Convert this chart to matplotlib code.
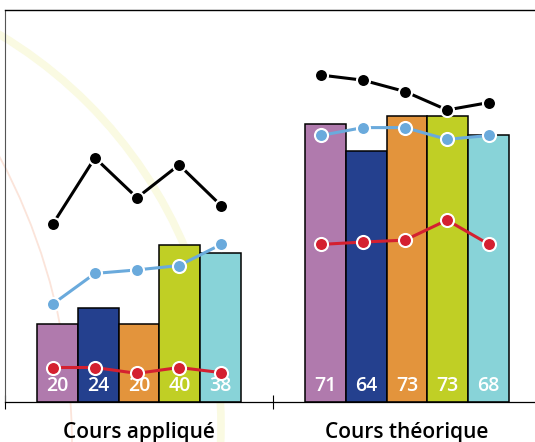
import numpy as np
import matplotlib.pyplot as plt
from matplotlib.patches import Circle

categories = ["Cours appliqué", "Cours théorique"]
bar_values = [[20, 24, 20, 40, 38], [71, 64, 73, 73, 68]]
bar_colors = ["#b07aad", "#24408e", "#e3943c", "#c0cf25", "#88d3d8"]

# line series, one list per category group
black_line = [[45.4, 62.3, 52.1, 60.5, 50.1], [83.4, 82.1, 79.2, 74.5, 76.4]]
blue_line = [[25.0, 32.8, 33.7, 34.8, 40.2], [68.0, 70.0, 70.0, 67.0, 68.0]]
red_line = [[8.8, 8.8, 7.3, 8.8, 7.5], [40.2, 40.8, 41.3, 46.4, 40.2]]

font = "Open Sans"

fig = plt.figure(figsize=(5.35, 4.42), dpi=100)

# decorative arcs in the background (pixel space)
bg = fig.add_axes([0, 0, 1, 1], zorder=0)
bg.set_xlim(0, 535)
bg.set_ylim(442, 0)
bg.axis('off')
bg.add_patch(Circle((-234, 425), 455, fill=False, ec='#fafae2', lw=5.5))
bg.add_patch(Circle((-538, 445), 610, fill=False, ec='#fbe4da', lw=1.3))

ax = fig.add_axes([5/535, 40/442, 536/535, 392/442], zorder=1)
ax.patch.set_alpha(0)
ax.set_xlim(0, 2)
ax.set_ylim(0, 100)

bw = 0.1515
idx = np.arange(5) - 2
for g in range(len(categories)):
    c = g + 0.5
    xb = c + idx * bw
    ax.bar(xb, bar_values[g], width=bw, color=bar_colors,
           edgecolor='black', linewidth=1.1, zorder=2)
    for x, v in zip(xb, bar_values[g]):
        ax.text(x, 2.9, str(v), ha='center', va='baseline', color='white',
                fontsize=14, fontweight='semibold', family=font, zorder=3)

    xl = c - 0.0075 + idx * 0.157
    for vals, col in [(black_line, 'black'), (blue_line, '#6aaadc'),
                      (red_line, '#d42030')]:
        ax.plot(xl, vals[g], color=col, lw=2.2, marker='o', ms=9.4,
                mfc=col, mec='white', mew=1.5, zorder=4)

    ax.text(c, -9.1, categories[g], ha='center', va='baseline',
            fontsize=15, fontweight='semibold', family=font, clip_on=False)

ax.set_yticks([])
ax.set_xticks([0, 1, 2])
ax.set_xticklabels([])
ax.tick_params(axis='x', direction='inout', length=10, width=0.8)

ax.spines['right'].set_visible(False)
ax.spines['top'].set_linewidth(1.0)
ax.spines['left'].set_color('#555555')
ax.spines['left'].set_linewidth(0.8)
ax.spines['bottom'].set_linewidth(0.9)

plt.savefig("out.png", dpi=100)
